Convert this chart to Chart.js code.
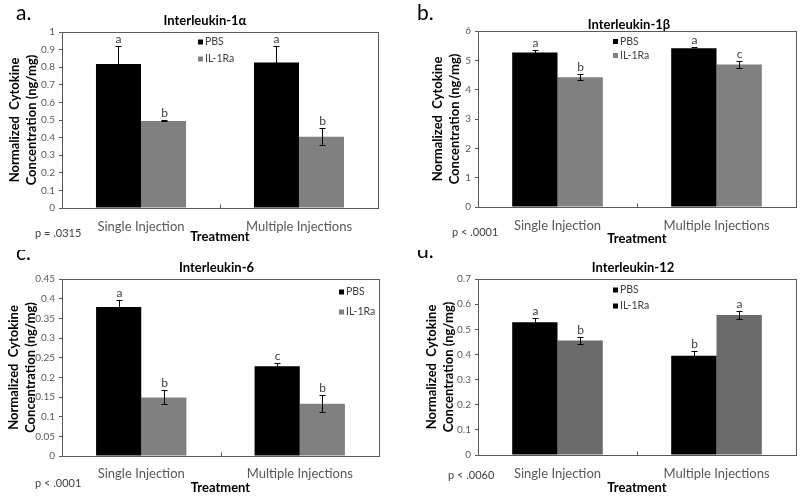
<!DOCTYPE html>
<html>
<head>
<meta charset="utf-8">
<script src="https://cdn.jsdelivr.net/npm/chart.js@4.4.0/dist/chart.umd.min.js"></script>
<style>
  html, body { margin: 0; padding: 0; background: #fff; }
  #wrap { position: relative; width: 800px; height: 500px; }
  canvas { position: absolute; }
</style>
</head>
<body>
<div id="wrap">
  <canvas id="panelA" width="400" height="250" style="left:0;top:0"></canvas>
  <canvas id="panelB" width="400" height="250" style="left:400px;top:0"></canvas>
  <canvas id="panelC" width="400" height="250" style="left:0;top:250px"></canvas>
  <canvas id="panelD" width="400" height="250" style="left:400px;top:250px"></canvas>
</div>
<script>
const categories = ['Single Injection', 'Multiple Injections'];
const seriesNames = ['PBS', 'IL-1Ra'];

// a. Interleukin-1α
const il1aPBS = [0.818, 0.826];
const il1aPBSErr = [0.100, 0.096];
const il1aRa = [0.495, 0.405];
const il1aRaErr = [0.003, 0.047];
const il1aPBSLetters = ['a', 'a'];
const il1aRaLetters = ['b', 'b'];
const il1aTicks = [0, 0.1, 0.2, 0.3, 0.4, 0.5, 0.6, 0.7, 0.8, 0.9, 1];

// b. Interleukin-1β
const il1bPBS = [5.27, 5.41];
const il1bPBSErr = [0.08, 0.03];
const il1bRa = [4.42, 4.86];
const il1bRaErr = [0.10, 0.11];
const il1bPBSLetters = ['a', 'a'];
const il1bRaLetters = ['b', 'c'];
const il1bTicks = [0, 1, 2, 3, 4, 5, 6];

// c. Interleukin-6
const il6PBS = [0.379, 0.228];
const il6PBSErr = [0.018, 0.009];
const il6Ra = [0.149, 0.133];
const il6RaErr = [0.018, 0.022];
const il6PBSLetters = ['a', 'c'];
const il6RaLetters = ['b', 'b'];
const il6Ticks = [0, 0.05, 0.1, 0.15, 0.2, 0.25, 0.3, 0.35, 0.4, 0.45];

// d. Interleukin-12
const il12PBS = [0.528, 0.395];
const il12PBSErr = [0.016, 0.018];
const il12Ra = [0.455, 0.557];
const il12RaErr = [0.014, 0.016];
const il12PBSLetters = ['a', 'b'];
const il12RaLetters = ['b', 'a'];
const il12Ticks = [0, 0.1, 0.2, 0.3, 0.4, 0.5, 0.6, 0.7];

const FONT = 'Lato, "Open Sans", sans-serif';

function makePanel(id, p) {
    // error bars, letters, frame and the loose texts of each panel
    const decor = {
        id: 'decor',
        afterDatasetsDraw(chart) {
            const c = chart.ctx;
            const a = chart.chartArea;
            const ys = chart.scales.y;
            c.save();
            c.lineWidth = 1;
            chart.data.datasets.forEach((ds, di) => {
                chart.getDatasetMeta(di).data.forEach((bar, i) => {
                    const x = Math.round(bar.x) + 0.5;
                    const hi = Math.round(ys.getPixelForValue(ds.data[i] + ds.errors[i])) + 0.5;
                    const lo = Math.round(ys.getPixelForValue(ds.data[i] - ds.errors[i])) + 0.5;
                    c.strokeStyle = '#000';
                    c.beginPath();
                    c.moveTo(x, hi); c.lineTo(x, lo);
                    c.moveTo(x - 3, hi); c.lineTo(x + 3, hi);
                    c.moveTo(x - 3, lo); c.lineTo(x + 3, lo);
                    c.stroke();
                    c.fillStyle = '#404040';
                    c.font = '12px ' + FONT;
                    c.textAlign = 'center';
                    c.textBaseline = 'alphabetic';
                    c.fillText(ds.letters[i], x, hi - 4);
                });
            });
            // plot frame + inside tick between groups
            c.strokeStyle = '#595959';
            const l = Math.round(a.left) + 0.5, t = Math.round(a.top) + 0.5;
            const r = Math.round(a.right) + 0.5, b = Math.round(a.bottom) + 0.5;
            c.strokeRect(l, t, r - l, b - t);
            const mid = Math.round((a.left + a.right) / 2) + 0.5;
            c.beginPath();
            c.moveTo(mid, b); c.lineTo(mid, b - 4);
            c.stroke();
            c.restore();
        },
        afterDraw(chart) {
            const c = chart.ctx;
            c.save();
            c.textBaseline = 'alphabetic';
            // panel tag
            c.fillStyle = '#000';
            c.textAlign = 'left';
            c.font = '21px ' + FONT;
            c.fillText(p.tag, p.tagPos[0], p.tagPos[1]);
            // title
            c.textAlign = 'center';
            c.font = 'bold 13px ' + FONT;
            c.fillText(p.title, p.titlePos[0], p.titlePos[1]);
            // p value
            c.textAlign = 'left';
            c.fillStyle = '#404040';
            c.font = '11px ' + FONT;
            c.fillText(p.pval, p.pPos[0], p.pPos[1]);
            // legend
            c.font = '10.5px ' + FONT;
            c.textBaseline = 'middle';
            seriesNames.forEach((name, i) => {
                const y = p.legendY[i];
                c.fillStyle = p.legendColors[i];
                c.fillRect(p.legendX, y - 2.5, 5, 5);
                c.fillStyle = '#404040';
                c.fillText(name, p.legendX + 7, y);
            });
            c.restore();
        }
    };

    return new Chart(document.getElementById(id), {
        type: 'bar',
        data: {
            labels: categories,
            datasets: [
                {
                    label: seriesNames[0],
                    data: p.pbs,
                    errors: p.pbsErr,
                    letters: p.pbsLetters,
                    backgroundColor: '#000000',
                    categoryPercentage: 0.57,
                    barPercentage: 1
                },
                {
                    label: seriesNames[1],
                    data: p.ra,
                    errors: p.raErr,
                    letters: p.raLetters,
                    backgroundColor: p.raColor,
                    categoryPercentage: 0.57,
                    barPercentage: 1
                }
            ]
        },
        options: {
            responsive: false,
            animation: false,
            devicePixelRatio: 1,
            layout: {
                padding: { left: 0, top: p.area[2], right: 400 - p.area[1], bottom: 0 }
            },
            plugins: {
                legend: { display: false },
                tooltip: { enabled: false },
                title: { display: false }
            },
            scales: {
                x: {
                    grid: { display: false },
                    border: { display: false },
                    ticks: {
                        color: '#595959',
                        font: { family: FONT, size: 13 },
                        padding: p.xTickPad,
                        maxRotation: 0,
                        autoSkip: false
                    },
                    title: {
                        display: true,
                        text: 'Treatment',
                        color: '#000',
                        font: { family: FONT, size: 13, weight: 'bold', lineHeight: 1.27 },
                        padding: { top: 0, bottom: p.xTitlePad }
                    },
                    afterFit: s => { s.height = 250 - p.area[3]; }
                },
                y: {
                    min: 0,
                    max: p.ticks[p.ticks.length - 1],
                    afterBuildTicks: s => { s.ticks = p.ticks.map(v => ({ value: v })); },
                    grid: { drawOnChartArea: false, drawTicks: true, tickLength: 3, color: '#595959' },
                    border: { display: false },
                    ticks: {
                        color: '#595959',
                        font: { family: FONT, size: 10 },
                        padding: 4,
                        callback: v => String(+v.toFixed(3))
                    },
                    title: {
                        display: true,
                        text: ['Normalized  Cytokine', 'Concentration (ng/mg)'],
                        color: '#000',
                        font: { family: FONT, size: 13, weight: 'bold', lineHeight: 1.27 },
                        padding: { top: p.yTitlePad, bottom: 0 }
                    },
                    afterFit: s => { s.width = p.area[0]; }
                }
            }
        },
        plugins: [decor]
    });
}

makePanel('panelA', {
    pbs: il1aPBS, pbsErr: il1aPBSErr, pbsLetters: il1aPBSLetters,
    ra: il1aRa, raErr: il1aRaErr, raLetters: il1aRaLetters,
    ticks: il1aTicks, raColor: '#808080',
    area: [62, 378, 32, 208],
    tag: 'a.', tagPos: [16, 20],
    title: 'Interleukin-1α', titlePos: [205, 24.5],
    pval: 'p = .0315', pPos: [35, 237],
    legendX: 198, legendY: [42, 59], legendColors: ['#000', '#808080'],
    yTitlePad: 7, xTitlePad: 5, xTickPad: 3
});

makePanel('panelB', {
    pbs: il1bPBS, pbsErr: il1bPBSErr, pbsLetters: il1bPBSLetters,
    ra: il1bRa, raErr: il1bRaErr, raLetters: il1bRaLetters,
    ticks: il1bTicks, raColor: '#808080',
    area: [78, 396, 31, 207],
    tag: 'b.', tagPos: [17, 20],
    title: 'Interleukin-1β', titlePos: [229, 28.5],
    pval: 'p < .0001', pPos: [52, 236],
    legendX: 213, legendY: [41.5, 55.5], legendColors: ['#000', '#808080'],
    yTitlePad: 30, xTitlePad: 3, xTickPad: 3
});

makePanel('panelC', {
    pbs: il6PBS, pbsErr: il6PBSErr, pbsLetters: il6PBSLetters,
    ra: il6Ra, raErr: il6RaErr, raLetters: il6RaLetters,
    ticks: il6Ticks, raColor: '#808080',
    area: [62, 379, 29, 206],
    tag: 'c.', tagPos: [16, 10],
    title: 'Interleukin-6', titlePos: [216.5, 21.5],
    pval: 'p < .0001', pPos: [35, 237],
    legendX: 339, legendY: [42, 62], legendColors: ['#000', '#808080'],
    yTitlePad: 6, xTitlePad: 4, xTickPad: 2
});

makePanel('panelD', {
    pbs: il12PBS, pbsErr: il12PBSErr, pbsLetters: il12PBSLetters,
    ra: il12Ra, raErr: il12RaErr, raLetters: il12RaLetters,
    ticks: il12Ticks, raColor: '#6b6b6b',
    area: [78, 396, 29, 205],
    tag: 'd.', tagPos: [17, 8],
    title: 'Interleukin-12', titlePos: [233, 22],
    pval: 'p < .0060', pPos: [48, 229],
    legendX: 213, legendY: [40, 56], legendColors: ['#000', '#000'],
    yTitlePad: 24, xTitlePad: 4, xTickPad: 3
});
</script>
</body>
</html>
